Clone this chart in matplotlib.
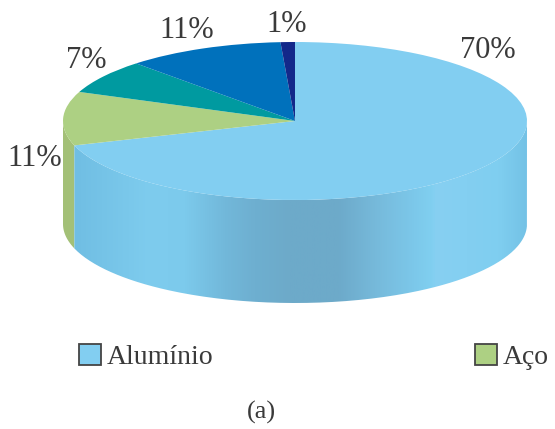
import numpy as np
import matplotlib
matplotlib.use("Agg")
import matplotlib.pyplot as plt
from matplotlib.colors import LinearSegmentedColormap
from matplotlib.patches import PathPatch, Patch
from matplotlib.path import Path

shares = [70, 11, 7, 11, 1]
share_labels = ["70%", "11%", "7%", "11%", "1%"]
slice_colors = ["#82CEF1", "#ADD083", "#009AA0", "#0071BC", "#13288A"]
legend_names = ["Alumínio", "Aço"]
caption = "(a)"

W, H = 555, 429
CX, CY = 295, 121  # pie centre in pixels
RX, RY = 232, 79
DEPTH = 103

plt.rcParams["font.family"] = ["Liberation Serif", "DejaVu Serif"]
TEXT = "#3a3a3a"


def px(x, y):
    # pixel position to data units, where the pie radius is 1
    return (x - CX) / RX, (CY - y) / RY


def side_path(a0, a1):
    # front wall of the cylinder between two angles (degrees)
    t = np.radians(np.linspace(a0, a1, 200))
    x, y = np.cos(t), np.sin(t)
    d = DEPTH / RY
    verts = np.vstack((np.c_[x, y], np.c_[x[::-1], y[::-1] - d], [[x[0], y[0]]]))
    return Path(verts)


def main():
    fig = plt.figure(figsize=(W / 100, H / 100), dpi=100)
    ax = fig.add_axes([0, 0, 1, 1])

    wedges, _ = ax.pie(shares, colors=slice_colors, startangle=90,
                       counterclock=False, radius=1)
    ax.set_aspect("auto")
    ax.set_xlim(-CX / RX, (W - CX) / RX)
    ax.set_ylim((CY - H) / RY, CY / RY)

    # wall of the big slice, shaded across its width
    split = 90 - 360 * shares[0] / sum(shares)
    stops = [(75, "#70BEE3"), (150, "#7ECCEE"), (185, "#7CCAEC"), (225, "#72B8DA"),
             (255, "#6EAFD0"), (290, "#6DAAC9"), (340, "#6DAACA"), (375, "#76B9DA"),
             (415, "#7CC8EA"), (432, "#80CFF0"), (437, "#87D0F2"), (500, "#7FCEF0"),
             (527, "#74C2E6")]
    pos = [(s[0] - 75) / (527 - 75) for s in stops]
    cmap = LinearSegmentedColormap.from_list("wall", list(zip(pos, [s[1] for s in stops])))
    x_left = np.cos(np.radians(split))
    grad = np.linspace(0, 1, 512)[None, :]
    y_low = (CY - H) / RY
    img = ax.imshow(grad, cmap=cmap, aspect="auto", zorder=0.5,
                    extent=(x_left, 1, y_low, 0))
    ax.set_xlim(-CX / RX, (W - CX) / RX)
    ax.set_ylim((CY - H) / RY, CY / RY)
    wall = PathPatch(side_path(split, 0), transform=ax.transData, fc="none", ec="none")
    ax.add_patch(wall)
    img.set_clip_path(wall)

    # wall of the green slice, the only other one facing the viewer
    ax.add_patch(PathPatch(side_path(split, -180), fc="#A3C077", ec="none", zorder=0.4))

    for w in wedges:
        w.set_zorder(2)

    label_pos = [(488, 51), (35, 158), (86, 61), (187, 31), (287, 24)]
    for lab, (x, y) in zip(share_labels, label_pos):
        ax.text(*px(x, y), lab, fontsize=22, color=TEXT, ha="center", va="center", zorder=3)

    ax.text(*px(261, 412), caption, fontsize=19, color=TEXT, ha="center", va="center")

    handles = [Patch(fc=slice_colors[i], ec="#444444", lw=1.3) for i in range(2)]
    ax.legend(handles, legend_names, ncol=2, frameon=False, fontsize=20,
              labelcolor=TEXT, loc="center left", bbox_to_anchor=(79 / W, 1 - 357 / H),
              borderpad=0, borderaxespad=0, handlelength=0.8, handleheight=0.8,
              handletextpad=0.2, columnspacing=9.4)

    ax.axis("off")
    fig.savefig("out.png", dpi=100)


if __name__ == "__main__":
    main()
